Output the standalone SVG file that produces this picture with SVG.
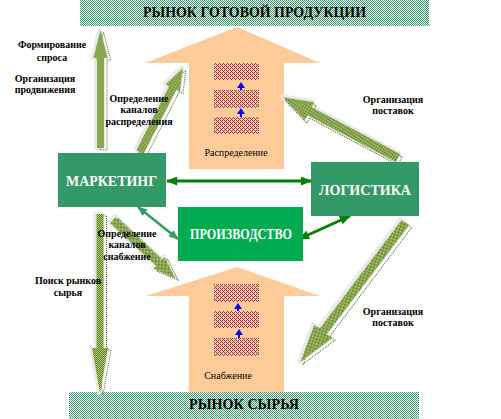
<svg xmlns="http://www.w3.org/2000/svg" xmlns:xlink="http://www.w3.org/1999/xlink" width="501" height="419" viewBox="0 0 501 419">
<style>
.lbl{font-family:"Liberation Serif","Times New Roman",serif;font-size:10px;font-weight:bold;fill:#000;text-anchor:middle}
.inner{font-family:"Liberation Serif","Times New Roman",serif;font-size:10px;fill:#000;text-anchor:middle}
.title{font-family:"Liberation Serif","Times New Roman",serif;font-size:15px;font-weight:bold;fill:#000}
.box{font-family:"Liberation Serif","Times New Roman",serif;font-size:14px;font-weight:bold;fill:#fff}
.big{fill:#FFCC99}
.halo{fill:#e9e9e9;stroke:#e9e9e9;stroke-width:4;stroke-linejoin:round}
.dots{fill:none;stroke:#4a6b1e;stroke-width:1;stroke-dasharray:1 1}
.olive{fill:url(#olive)}
.blk{fill:url(#maroon)}
.blue{fill:#0000FF}
.cg{stroke:#008000;stroke-width:3;fill:none}
.ct{stroke:#339966;stroke-width:2.5;fill:none}
</style>
<defs>
<pattern id="green" width="2" height="2" patternUnits="userSpaceOnUse">
<rect width="2" height="2" fill="#fff"/><rect width="1" height="1" fill="#339966"/><rect x="1" y="1" width="1" height="1" fill="#339966"/>
</pattern>
<pattern id="maroon" width="4" height="4" patternUnits="userSpaceOnUse">
<rect width="4" height="4" fill="#FFCC99"/>
<g fill="#993366"><rect x="0" y="0" width="1" height="1"/><rect x="2" y="0" width="1" height="1"/><rect x="1" y="1" width="1" height="1"/><rect x="0" y="2" width="1" height="1"/><rect x="2" y="2" width="1" height="1"/><rect x="3" y="3" width="1" height="1"/></g>
</pattern>
<pattern id="olive" width="2" height="2" patternUnits="userSpaceOnUse">
<rect width="2" height="2" fill="#b8d080"/><rect width="1" height="1" fill="#5a7a1e"/><rect x="1" y="1" width="1" height="1" fill="#5a7a1e"/>
</pattern>
<marker id="mg" viewBox="0 0 10 8" markerWidth="12" markerHeight="9" refX="9" refY="4" orient="auto-start-reverse" markerUnits="userSpaceOnUse"><path d="M0,0 L10,4 L0,8 z" fill="#008000"/></marker>
<marker id="mt" viewBox="0 0 10 8" markerWidth="11" markerHeight="8" refX="9" refY="4" orient="auto-start-reverse" markerUnits="userSpaceOnUse"><path d="M0,0 L10,4 L0,8 z" fill="#339966"/></marker>
<polygon id="a1" transform="translate(100.5,148) rotate(-90)" points="0,-3.5 90,-3.5 90,-7 118,0 90,7 90,3.5 0,3.5"/>
<polygon id="a2" transform="translate(100,214) rotate(90)" points="0,-3.5 134,-3.5 134,-8 179,0 134,8 134,3.5 0,3.5"/>
<polygon id="a3" transform="translate(140,152) rotate(-62.9)" points="0,-4 72,-4 72,-8 94,0 72,8 72,4 0,4"/>
<polygon id="a4" transform="translate(398,158) rotate(-152.1)" points="0,-4.5 100,-4.5 100,-10 130,0 100,10 100,4.5 0,4.5"/>
<polygon id="a5" transform="translate(113,220) rotate(43)" points="0,-4 63,-4 63,-8 85,0 63,8 63,4 0,4"/>
<polygon id="a6" transform="translate(405,223) rotate(127)" points="0,-4.5 136,-4.5 136,-11 174,0 136,11 136,4.5 0,4.5"/>
</defs>
<rect width="501" height="419" fill="#fff"/>

<g id="market-top">
<rect x="80" y="0" width="349" height="26" fill="url(#green)"/>
<text class="title" x="143" y="17" textLength="223" lengthAdjust="spacingAndGlyphs">РЫНОК ГОТОВОЙ ПРОДУКЦИИ</text>
</g>

<g id="distribution">
<polygon class="big" points="237,27 320,63 284,63 284,169 189,169 189,63 145,63"/>
<rect class="blk" x="214" y="63" width="45" height="17"/>
<rect class="blk" x="214" y="90" width="45" height="18"/>
<rect class="blk" x="214" y="117" width="45" height="17"/>
<path class="blue" d="M241,82 L245,88 L242,88 L242,90 L240,90 L240,88 L237,88 z"/>
<path class="blue" d="M241,108 L245,114 L242,114 L242,117 L240,117 L240,114 L237,114 z"/>
<text class="inner" x="236" y="156">Распределение</text>
</g>

<g id="supply">
<polygon class="big" points="237,267 320,296 284,296 284,392 189,392 189,296 146,296"/>
<rect class="blk" x="214" y="284" width="45" height="18"/>
<rect class="blk" x="214" y="311" width="45" height="17"/>
<rect class="blk" x="214" y="338" width="45" height="18"/>
<path class="blue" d="M238,303 L242,309 L239,309 L239,311 L237,311 L237,309 L234,309 z"/>
<path class="blue" d="M239,329 L243,335 L240,335 L240,338 L238,338 L238,335 L235,335 z"/>
<text class="inner" x="228" y="379">Снабжение</text>
</g>

<g id="market-raw">
<rect x="69" y="392" width="350" height="27" fill="url(#green)"/>
<text class="title" x="189" y="409" textLength="110" lengthAdjust="spacingAndGlyphs">РЫНОК СЫРЬЯ</text>
</g>

<g id="flow-arrows">
<use xlink:href="#a1" class="halo" transform="translate(-1,0)"/>
<use xlink:href="#a1" class="dots" transform="translate(3,2)"/>
<use xlink:href="#a1" class="olive"/>
<use xlink:href="#a2" class="halo" transform="translate(-1,0)"/>
<use xlink:href="#a2" class="dots" transform="translate(3,2)"/>
<use xlink:href="#a2" class="olive"/>
<use xlink:href="#a3" class="halo" transform="translate(-1,-1)"/>
<use xlink:href="#a3" class="dots" transform="translate(3,2)"/>
<use xlink:href="#a3" class="olive"/>
<use xlink:href="#a4" class="halo" transform="translate(-1,-1)"/>
<use xlink:href="#a4" class="dots" transform="translate(2,3)"/>
<use xlink:href="#a4" class="olive"/>
<use xlink:href="#a5" class="halo" transform="translate(-1,-1)"/>
<use xlink:href="#a5" class="dots" transform="translate(3,2)"/>
<use xlink:href="#a5" class="olive"/>
<use xlink:href="#a6" class="halo" transform="translate(-1,-1)"/>
<use xlink:href="#a6" class="dots" transform="translate(3,2)"/>
<use xlink:href="#a6" class="olive"/>
</g>

<g id="connectors">
<line class="cg" x1="167" y1="181" x2="311" y2="181" marker-start="url(#mg)" marker-end="url(#mg)"/>
<line class="ct" x1="138" y1="207" x2="178" y2="239" marker-start="url(#mt)" marker-end="url(#mt)"/>
<line class="cg" x1="350" y1="216" x2="299" y2="239" marker-start="url(#mg)" marker-end="url(#mg)"/>
</g>

<g id="marketing">
<rect x="58" y="153" width="108" height="54" fill="#339966"/>
<text class="box" x="66" y="186" textLength="91" lengthAdjust="spacingAndGlyphs">МАРКЕТИНГ</text>
</g>
<g id="logistics">
<rect x="311" y="162" width="108" height="54" fill="#339966"/>
<text class="box" x="319" y="195" textLength="92" lengthAdjust="spacingAndGlyphs">ЛОГИСТИКА</text>
</g>
<g id="production">
<rect x="178" y="207" width="125" height="54" fill="#00AA50"/>
<text class="box" x="190" y="239" textLength="102" lengthAdjust="spacingAndGlyphs">ПРОИЗВОДСТВО</text>
</g>

<g id="labels">
<text class="lbl" x="52" y="48">Формирование</text>
<text class="lbl" x="52" y="61">спроса</text>
<text class="lbl" x="45" y="82">Организация</text>
<text class="lbl" x="45" y="93">продвижения</text>
<text class="lbl" x="139" y="102">Определение</text>
<text class="lbl" x="139" y="113">каналов</text>
<text class="lbl" x="139" y="125">распределения</text>
<text class="lbl" x="393" y="103">Организация</text>
<text class="lbl" x="393" y="114">поставок</text>
<text class="lbl" x="127" y="237">Определение</text>
<text class="lbl" x="127" y="248">каналов</text>
<text class="lbl" x="127" y="260">снабжение</text>
<text class="lbl" x="68" y="284">Поиск рынков</text>
<text class="lbl" x="68" y="296">сырья</text>
<text class="lbl" x="393" y="315">Организация</text>
<text class="lbl" x="393" y="326">поставок</text>
</g>
</svg>
